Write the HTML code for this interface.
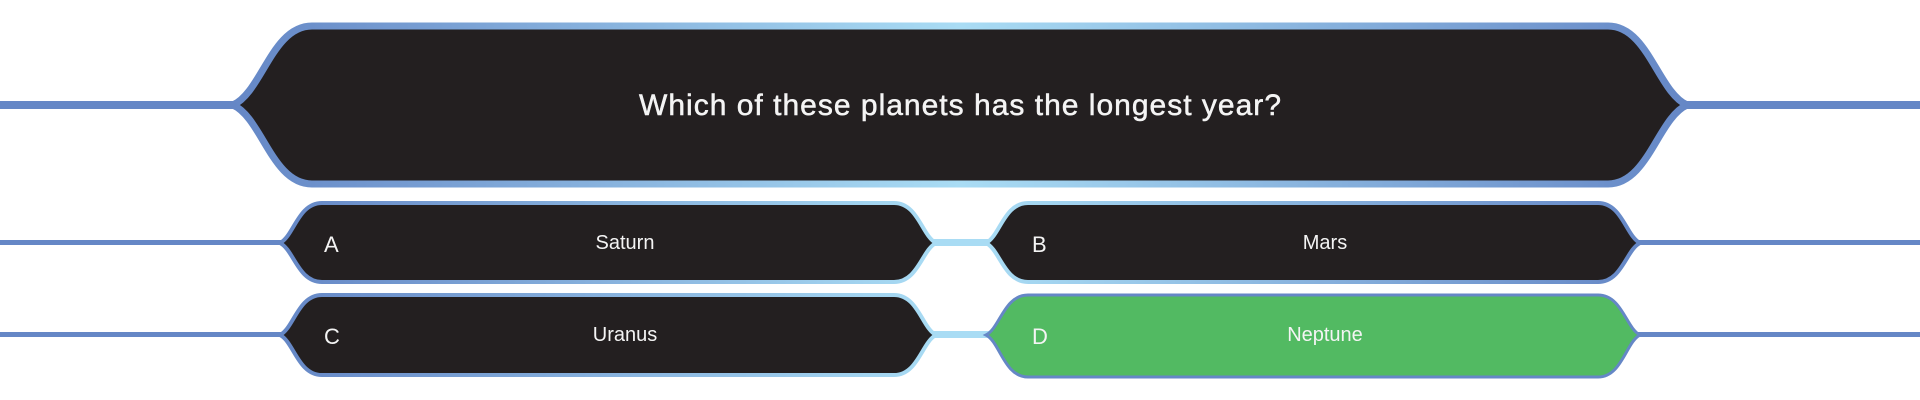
<!DOCTYPE html>
<html><head><meta charset="utf-8"><style>
html,body{margin:0;padding:0;background:#fff;width:1920px;height:400px;overflow:hidden}
text{font-family:"Liberation Sans",sans-serif;fill:#f4f4f4}
</style></head><body>
<svg width="1920" height="400" viewBox="0 0 1920 400">
<defs>
<linearGradient id="g" x1="0" x2="1" y1="0" y2="0">
<stop offset="0" stop-color="#6587c6"/><stop offset="0.5" stop-color="#a9dcf4"/><stop offset="1" stop-color="#6587c6"/>
</linearGradient>
<linearGradient id="ga" x1="0" x2="1" y1="0" y2="0">
<stop offset="0" stop-color="#6587c6"/><stop offset="1" stop-color="#a9dcf4"/>
</linearGradient>
<linearGradient id="gb" x1="0" x2="1" y1="0" y2="0">
<stop offset="0" stop-color="#a9dcf4"/><stop offset="1" stop-color="#6587c6"/>
</linearGradient>
</defs>
<g>
<rect x="0" y="101" width="240" height="8" fill="#6587c6"/>
<rect x="1680" y="101" width="240" height="8" fill="#6587c6"/>
<rect x="0" y="240" width="285" height="5" fill="#6587c6"/>
<rect x="1636" y="240" width="284" height="5" fill="#6587c6"/>
<rect x="0" y="332" width="285" height="5" fill="#6587c6"/>
<rect x="1636" y="332" width="284" height="5" fill="#6587c6"/>
<rect x="930" y="239" width="62" height="7" fill="#a9dcf4"/>
<rect x="930" y="331" width="62" height="7" fill="#a9dcf4"/>
</g>
<g>
<path d="M233,105 C262,92 272,26 312,26 L1608,26 C1648,26 1658,92 1687,105 C1658,118 1648,184 1608,184 L312,184 C272,184 262,118 233,105 Z" fill="#231f20" stroke="url(#g)" stroke-width="7"/>
<text x="960" y="115" font-size="30" text-anchor="middle" textLength="642" lengthAdjust="spacing" stroke="#f4f4f4" stroke-width="0.5">Which of these planets has the longest year?</text>
</g>
<g>
<path d="M280,243 C294,236 298,203 322,203 L894,203 C918,203 922,236 936,243 C922,250 918,282 894,282 L322,282 C298,282 294,250 280,243 Z" fill="#231f20" stroke="url(#ga)" stroke-width="4"/>
<text x="324" y="252" font-size="22">A</text>
<text x="625" y="249" font-size="20" text-anchor="middle">Saturn</text>
</g>
<g>
<path d="M986,243 C1000,236 1004,203 1028,203 L1598,203 C1622,203 1626,236 1640,243 C1626,250 1622,282 1598,282 L1028,282 C1004,282 1000,250 986,243 Z" fill="#231f20" stroke="url(#gb)" stroke-width="4"/>
<text x="1032" y="252" font-size="22">B</text>
<text x="1325" y="249" font-size="20" text-anchor="middle">Mars</text>
</g>
<g>
<path d="M280,335 C294,328 298,295 322,295 L894,295 C918,295 922,328 936,335 C922,342 918,375 894,375 L322,375 C298,375 294,342 280,335 Z" fill="#231f20" stroke="url(#ga)" stroke-width="4"/>
<text x="324" y="344" font-size="22">C</text>
<text x="625" y="341" font-size="20" text-anchor="middle">Uranus</text>
</g>
<g>
<path d="M986,335 C1000,328 1004,295 1028,295 L1598,295 C1622,295 1626,328 1640,335 C1626,342 1622,377 1598,377 L1028,377 C1004,377 1000,342 986,335 Z" fill="#52ba62" stroke="#6587c6" stroke-width="3"/>
<text x="1032" y="344" font-size="22">D</text>
<text x="1325" y="341" font-size="20" text-anchor="middle">Neptune</text>
</g>
</svg>
</body></html>
